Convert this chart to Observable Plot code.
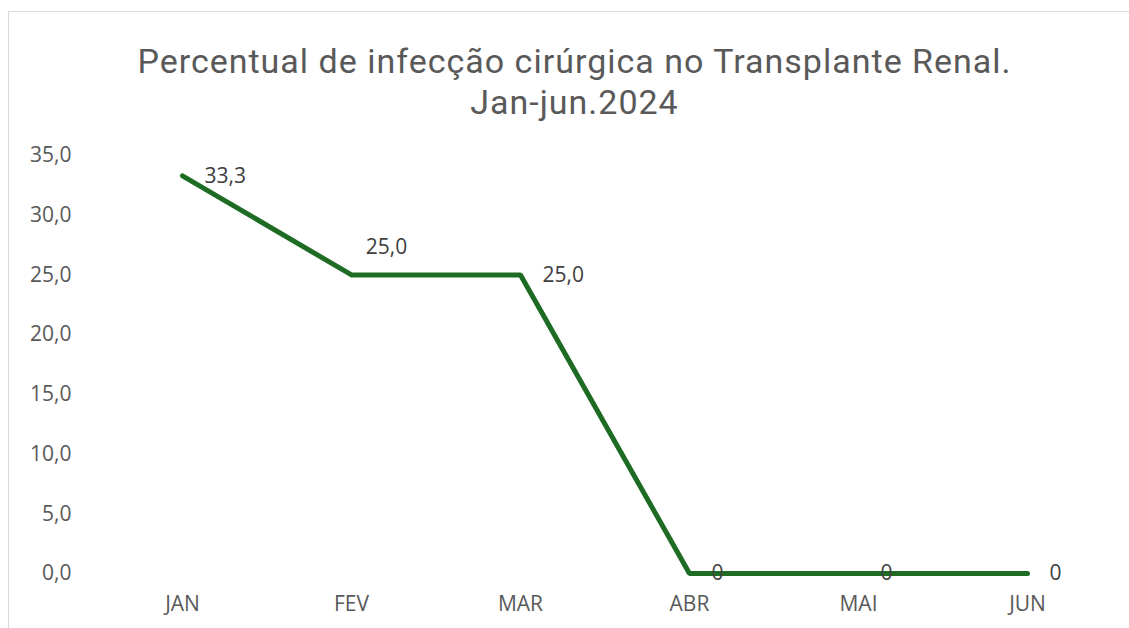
<!DOCTYPE html>
<html>
<head>
<meta charset="utf-8">
<script src="https://cdn.jsdelivr.net/npm/d3@7"></script>
<script src="https://cdn.jsdelivr.net/npm/@observablehq/plot@0.6"></script>
<style>
  html, body { margin: 0; padding: 0; background: #fff; }
  #wrap { position: relative; width: 1129px; height: 628px; overflow: hidden; font-family: "Open Sans", sans-serif; }
  #frame { position: absolute; left: 8px; top: 11px; width: 1200px; height: 700px; border-top: 1px solid #d9d9d9; border-left: 1px solid #d9d9d9; }
  .title { position: absolute; left: 0; width: 1149px; text-align: center; font-family: Roboto, sans-serif; font-size: 34px; letter-spacing: 1px; line-height: 41px; color: #595959; white-space: nowrap; }
  #chart { position: absolute; left: 0; top: 130px; }
</style>
</head>
<body>
<div id="wrap">
  <div id="frame"></div>
  <div class="title" style="top:41px">Percentual de infecção cirúrgica no Transplante Renal.</div>
  <div class="title" style="top:82px">Jan-jun.2024</div>
  <div id="chart"></div>
</div>
<script>
const months = ["JAN", "FEV", "MAR", "ABR", "MAI", "JUN"];
const values = [33.3, 25.0, 25.0, 0, 0, 0];
const yTicks = [0, 5, 10, 15, 20, 25, 30, 35];

const data = months.map((m, i) => ({month: m, value: values[i], i}));
const fmt = v => v === 0 ? "0" : v.toFixed(1).replace(".", ",");
const above = data.filter(d => d.month === "FEV");
const right = data.filter(d => d.month !== "FEV");
const FS = 21;

const chart = Plot.plot({
  width: 1129,
  height: 498,
  marginLeft: 95,
  marginRight: 16,
  marginTop: 25,
  marginBottom: 55,
  style: {fontFamily: "'Open Sans', sans-serif", fontSize: FS + "px", color: "#595959", background: "transparent"},
  x: {type: "point", domain: months, padding: 0.5, label: null},
  y: {domain: [0, 35], label: null},
  marks: [
    Plot.ruleY([0], {stroke: "#d9d9d9", strokeWidth: 1.3, x1: months[0], x2: months[5], insetLeft: -87, insetRight: -87}),
    Plot.axisY({ticks: yTicks, tickSize: 0, tickPadding: 24, fontSize: FS, tickFormat: v => v.toFixed(1).replace(".", ","), label: null, fill: "#595959"}),
    Plot.axisX({tickSize: 0, tickPadding: 23, fontSize: FS, label: null, fill: "#595959"}),
    Plot.line(data, {x: "month", y: "value", stroke: "#1e6b24", strokeWidth: 5, strokeLinejoin: "miter", strokeLinecap: "round"}),
    Plot.text(right, {x: "month", y: "value", text: d => fmt(d.value), textAnchor: "start", dx: 22, fontSize: FS, fill: "#404040"}),
    Plot.text(above, {x: "month", y: "value", text: d => fmt(d.value), textAnchor: "middle", dx: 35, dy: -28, fontSize: FS, fill: "#404040"})
  ]
});
document.getElementById("chart").appendChild(chart);
</script>
</body>
</html>
